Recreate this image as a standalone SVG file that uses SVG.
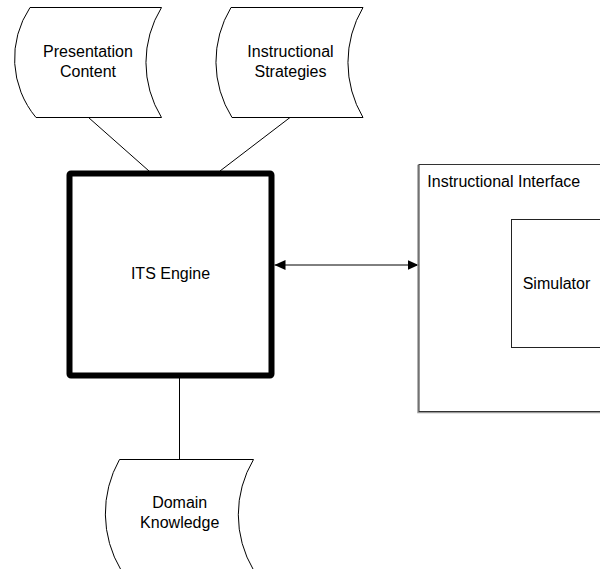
<svg xmlns="http://www.w3.org/2000/svg" width="600" height="569" viewBox="0 0 600 569">
<style>
  .shape { fill: #ffffff; stroke: #000000; stroke-width: 1; }
  .lbl { font-family: "Liberation Sans", Arial, sans-serif; font-size: 16px; fill: #000000; }
  .mid { text-anchor: middle; }
  .conn { stroke: #000000; stroke-width: 1; fill: none; }
</style>
<defs>
  <marker id="arrowEnd" viewBox="0 0 11 10" refX="11" refY="5" markerWidth="11" markerHeight="10" markerUnits="userSpaceOnUse" orient="auto">
    <path d="M0,0 L11,5 L0,10 Z" fill="#000000"/>
  </marker>
  <marker id="arrowStart" viewBox="0 0 11 10" refX="0" refY="5" markerWidth="11" markerHeight="10" markerUnits="userSpaceOnUse" orient="auto">
    <path d="M11,0 L0,5 L11,10 Z" fill="#000000"/>
  </marker>
</defs>
<rect x="0" y="0" width="600" height="569" fill="#ffffff"/>

<g id="connectors">
  <line class="conn" x1="88.5" y1="117.5" x2="149" y2="171"/>
  <line class="conn" x1="290" y1="117.5" x2="220" y2="171"/>
  <line class="conn" x1="179.5" y1="378" x2="179.5" y2="459"/>
  <line class="conn" x1="274.5" y1="265" x2="418.5" y2="265" marker-start="url(#arrowStart)" marker-end="url(#arrowEnd)"/>
</g>

<g id="presentation-content">
  <path class="shape" d="M30,7.5 L161.5,7.5 A105,105 0 0,0 161.5,117.5 L36,117.5 A92,92 0 0,1 30,7.5 Z"/>
  <text class="lbl mid" x="88" y="57">Presentation</text>
  <text class="lbl mid" x="88" y="77">Content</text>
</g>

<g id="instructional-strategies">
  <path class="shape" d="M231,7.5 L363,7.5 A108,108 0 0,0 363,117.5 L232,117.5 A105,105 0 0,1 231,7.5 Z"/>
  <text class="lbl mid" x="290.5" y="57">Instructional</text>
  <text class="lbl mid" x="290.5" y="77">Strategies</text>
</g>

<g id="its-engine">
  <rect x="69.5" y="173.5" width="202" height="202" rx="1.5" fill="#ffffff" stroke="#000000" stroke-width="6"/>
  <text class="lbl mid" x="170.5" y="279">ITS Engine</text>
</g>

<g id="instructional-interface">
  <rect x="418" y="165.5" width="200" height="247" fill="none" stroke="#9a9a9a" stroke-width="1.5"/>
  <rect x="419" y="164.5" width="200" height="247" fill="#ffffff" stroke="#333333" stroke-width="1"/>
  <text class="lbl" x="427.3" y="186.5">Instructional Interface</text>
</g>

<g id="simulator">
  <rect x="511.5" y="219.5" width="120" height="128" fill="#ffffff" stroke="#222222" stroke-width="1"/>
  <text class="lbl" x="522.7" y="289">Simulator</text>
</g>

<g id="domain-knowledge">
  <path class="shape" d="M119.5,459.5 L253.5,459.5 A108,108 0 0,0 253.5,570 L121,570 A110,110 0 0,1 119.5,459.5 Z"/>
  <text class="lbl mid" x="179.7" y="508.3">Domain</text>
  <text class="lbl mid" x="179.7" y="527.5">Knowledge</text>
</g>
</svg>
